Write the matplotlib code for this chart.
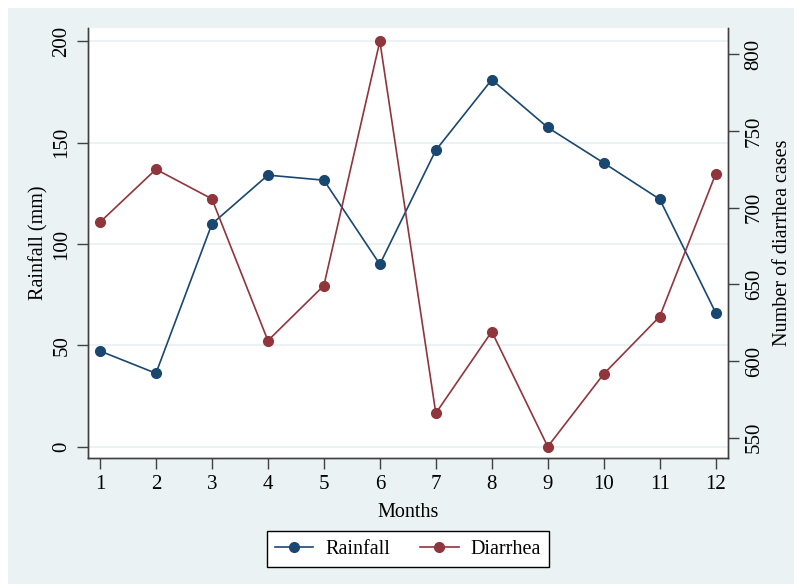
import matplotlib.pyplot as plt
from matplotlib.patches import Rectangle
from matplotlib.lines import Line2D

# dados
months = list(range(1, 13))
rainfall = [47.2, 36.2, 109.9, 134.0, 131.5, 90.0, 146.3, 181.1, 157.5, 140.0, 122.1, 66.1]
diarrhea = [690.5, 725.0, 705.7, 613.3, 649.2, 808.5, 566.0, 619.2, 544.2, 591.6, 629.0, 722.0]

rain_ticks = [0, 50, 100, 150, 200]
diar_ticks = [550, 600, 650, 700, 750, 800]

blue = '#1a476f'
red = '#90353b'
bg = '#eaf2f3'
W, H = 794, 584

plt.rcParams['font.family'] = ['Liberation Serif', 'DejaVu Serif']
fig = plt.figure(figsize=(W / 100, H / 100), dpi=100, facecolor='white')
fig.patches.append(Rectangle((8 / W, 0), 1 - 8 / W, 1 - 8 / H, transform=fig.transFigure,
                             facecolor=bg, edgecolor='none', zorder=-10))

ax = fig.add_axes([88 / W, 1 - 458 / H, 640 / W, 430 / H])
ax.set_facecolor('white')
ax2 = ax.twinx()

ax.set_xlim(0.786, 12.22)
ax.set_ylim(-5.6, 206.6)
ax2.set_ylim(536.8, 817.1)

ax.set_yticks(rain_ticks)
ax.grid(axis='y', color=bg, linewidth=1.5)
ax.set_axisbelow(True)

ms, lw = 7, 1.2
ax.plot(months, rainfall, color=blue, marker='o', markersize=ms, linewidth=lw, zorder=3)
ax2.plot(months, diarrhea, color=red, marker='o', markersize=ms, linewidth=lw, zorder=3)

ax.set_xticks(months)
ax2.set_yticks(diar_ticks)

spine_c = '#404040'
for a in (ax, ax2):
    a.spines['top'].set_visible(False)
    for s in ('left', 'right', 'bottom'):
        a.spines[s].set_color(spine_c)
        a.spines[s].set_linewidth(1.0)
    a.tick_params(length=8, width=1, color=spine_c, labelsize=15, pad=4)
ax.tick_params(axis='y', labelrotation=90)
ax2.tick_params(axis='y', labelrotation=90)
for lbl in ax.get_yticklabels() + ax2.get_yticklabels():
    lbl.set_va('center')

ax.set_xlabel('Months', fontsize=14.5, labelpad=7)
ax.set_ylabel('Rainfall (mm)', fontsize=14.5, labelpad=3)
ax2.set_ylabel('Number of diarrhea cases', fontsize=14.5, labelpad=7)

handles = [Line2D([], [], color=blue, marker='o', markersize=ms, linewidth=lw),
           Line2D([], [], color=red, marker='o', markersize=ms, linewidth=lw)]
leg = fig.legend(handles, ['Rainfall', 'Diarrhea'], ncol=2, loc='center',
                 bbox_to_anchor=(408 / W, 1 - 549 / H), fontsize=14.5, frameon=True,
                 fancybox=False, edgecolor='black', facecolor='white', framealpha=1,
                 handlelength=1.9, handletextpad=0.6, columnspacing=1.5, borderpad=0.4)
leg.get_frame().set_linewidth(1.0)

fig.savefig('out.png', dpi=100, facecolor='white')
